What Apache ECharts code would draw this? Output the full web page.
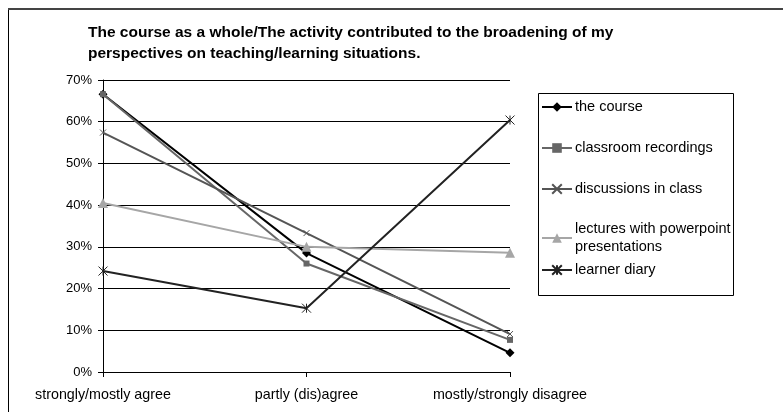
<!DOCTYPE html>
<html><head><meta charset="utf-8">
<script src="https://cdn.jsdelivr.net/npm/echarts@6/dist/echarts.min.js"></script>
<style>html,body{margin:0;padding:0;background:#fff}#c{width:783px;height:412px}</style>
</head><body><div id="c"></div>
<script>
const categories = ['strongly/mostly agree', 'partly (dis)agree', 'mostly/strongly disagree'];
const yTicks = [0, 0.1, 0.2, 0.3, 0.4, 0.5, 0.6, 0.7];
const seriesNames = ['the course', 'classroom recordings', 'discussions in class', 'lectures with powerpoint presentations', 'learner diary'];
const theCourse = [0.666, 0.285, 0.046];
const classroomRecordings = [0.666, 0.26, 0.077];
const discussionsInClass = [0.574, 0.333, 0.091];
const lectures = [0.405, 0.30, 0.286];
const learnerDiary = [0.242, 0.153, 0.604];

const chart = echarts.init(document.getElementById('c'));
const font = 'Liberation Sans, Arial, sans-serif';
const crossPath = 'path://M0,0L10,10M10,0L0,10';
const starPath = 'path://M0,0L10,10M10,0L0,10M5,0L5,10';

function mk(name, data, color, symbol, size, opts) {
  return Object.assign({
    name, type: 'line', data, symbol, symbolSize: size, showSymbol: true,
    lineStyle: { color, width: 2 }, itemStyle: { color },
    animation: false, z: 3
  }, opts || {});
}
const series = [
  mk(seriesNames[0], theCourse, '#000000', 'diamond', 9),
  mk(seriesNames[1], classroomRecordings, '#666666', 'rect', 6),
  mk(seriesNames[2], discussionsInClass, '#555555', crossPath, 6, { itemStyle: { color: 'rgba(0,0,0,0)', borderColor: '#555555', borderWidth: 1 } }),
  mk(seriesNames[3], lectures, '#a6a6a6', 'triangle', 10),
  mk(seriesNames[4], learnerDiary, '#222222', starPath, 9, { itemStyle: { color: 'rgba(0,0,0,0)', borderColor: '#222222', borderWidth: 1 } })
];
const legendTops = [98, 139, 180, 220, 261];
const legends = seriesNames.map((n, i) => ({
  data: [n], left: 541, top: legendTops[i], orient: 'vertical',
  itemWidth: 30, itemHeight: 12, itemGap: 0, padding: 0,
  formatter: (s) => s === 'lectures with powerpoint presentations' ? 'lectures with powerpoint\npresentations' : s,
  textStyle: { fontFamily: font, fontSize: 14.5, color: '#000', padding: [0, 0, 0, -2], lineHeight: 18 },
  selectedMode: false
}));

chart.setOption({
  backgroundColor: '#fff',
  animation: false,
  grid: { left: 103, right: 273, top: 80, bottom: 40, containLabel: false },
  xAxis: {
    type: 'category', data: categories, boundaryGap: false,
    axisLine: { lineStyle: { color: '#000', width: 1 } },
    axisTick: { show: true, length: 5, lineStyle: { color: '#000' } },
    axisLabel: { fontFamily: font, fontSize: 14.3, color: '#000', margin: 16, showMaxLabel: true, showMinLabel: true, interval: 0 },
    splitLine: { show: false }
  },
  yAxis: {
    type: 'value', min: yTicks[0], max: yTicks[yTicks.length - 1], interval: 0.1,
    axisLine: { show: true, lineStyle: { color: '#000', width: 1 } },
    axisTick: { show: true, length: 5, inside: false, lineStyle: { color: '#000' } },
    axisLabel: { fontFamily: font, fontSize: 13, color: '#000', margin: 11, formatter: v => Math.round(v * 100) + '%' },
    splitLine: { show: true, lineStyle: { color: '#000', width: 1 } }
  },
  legend: legends,
  series,
  graphic: [
    { type: 'rect', shape: { x: 8.5, y: 9.5, width: 800, height: 500 }, style: { fill: 'none', stroke: '#000', lineWidth: 1 }, silent: true, z: 0 },
    { type: 'line', shape: { x1: 8, y1: 9, x2: 783, y2: 9 }, style: { stroke: '#444', lineWidth: 2 }, silent: true },
    { type: 'rect', shape: { x: 538.5, y: 93.5, width: 195, height: 202 }, style: { fill: 'none', stroke: '#000', lineWidth: 1 }, silent: true },
    { type: 'text', left: 88, top: 22, style: { text: 'The course as a whole/The activity contributed to the broadening of my\nperspectives on teaching/learning situations.', font: 'bold 15.5px ' + font, fill: '#000', lineHeight: 21 } }
  ]
});
</script></body></html>
